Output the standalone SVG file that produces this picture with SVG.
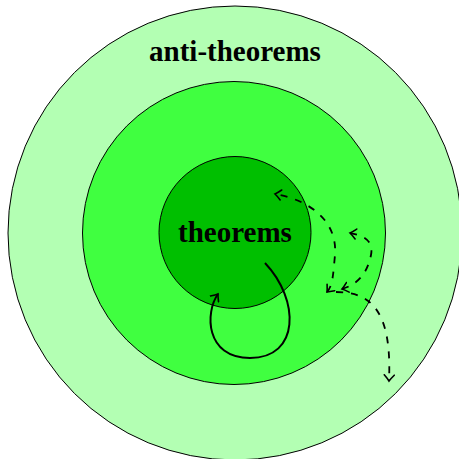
<svg xmlns="http://www.w3.org/2000/svg" width="459" height="459" viewBox="0 0 459 459">
<style>
.ring{stroke:#000;stroke-width:1}
.lbl{font-family:"Liberation Serif","Times New Roman",serif;font-weight:bold;font-size:29px;text-anchor:middle;fill:#000}
.solid{fill:none;stroke:#000;stroke-width:2}
.dash{fill:none;stroke:#000;stroke-width:1.8;stroke-dasharray:7,8}
</style>
<defs>
<marker id="arr" viewBox="-7 -6 9 12" markerWidth="9" markerHeight="12" refX="0" refY="0" orient="auto-start-reverse" markerUnits="userSpaceOnUse">
<path d="M-6,-5 Q-2,-1.3 0,0 Q-2,1.3 -6,5" fill="none" stroke="#000" stroke-width="1.6" stroke-linecap="round"/>
</marker>
</defs>
<rect width="459" height="459" fill="#fff"/>
<g id="anti-theorems">
<circle class="ring" cx="235" cy="233" r="227" fill="#b3ffb3"/>
<text class="lbl" x="235" y="61">anti-theorems</text>
</g>
<g id="middle">
<circle class="ring" cx="234" cy="233" r="151.5" fill="#40ff40"/>
</g>
<g id="theorems">
<circle class="ring" cx="235" cy="232.5" r="76" fill="#00bf00"/>
<text class="lbl" x="235" y="242">theorems</text>
</g>
<g id="connectors">
<path class="solid" d="M265,263 C300,300 300,358 250,358 C205,358 205,312 218,294" marker-end="url(#arr)"/>
<path class="dash" d="M327,292 C333,285 333,275 335,255 C338,215 300,198 275,194" marker-start="url(#arr)" marker-end="url(#arr)"/>
<path class="dash" d="M342,289 C356,285 367,275 371,255 C374,240 362,235 350,233" marker-start="url(#arr)" marker-end="url(#arr)"/>
<path class="dash" d="M336,292 C372,292 392,312 389,381" marker-end="url(#arr)"/>
</g>
</svg>
